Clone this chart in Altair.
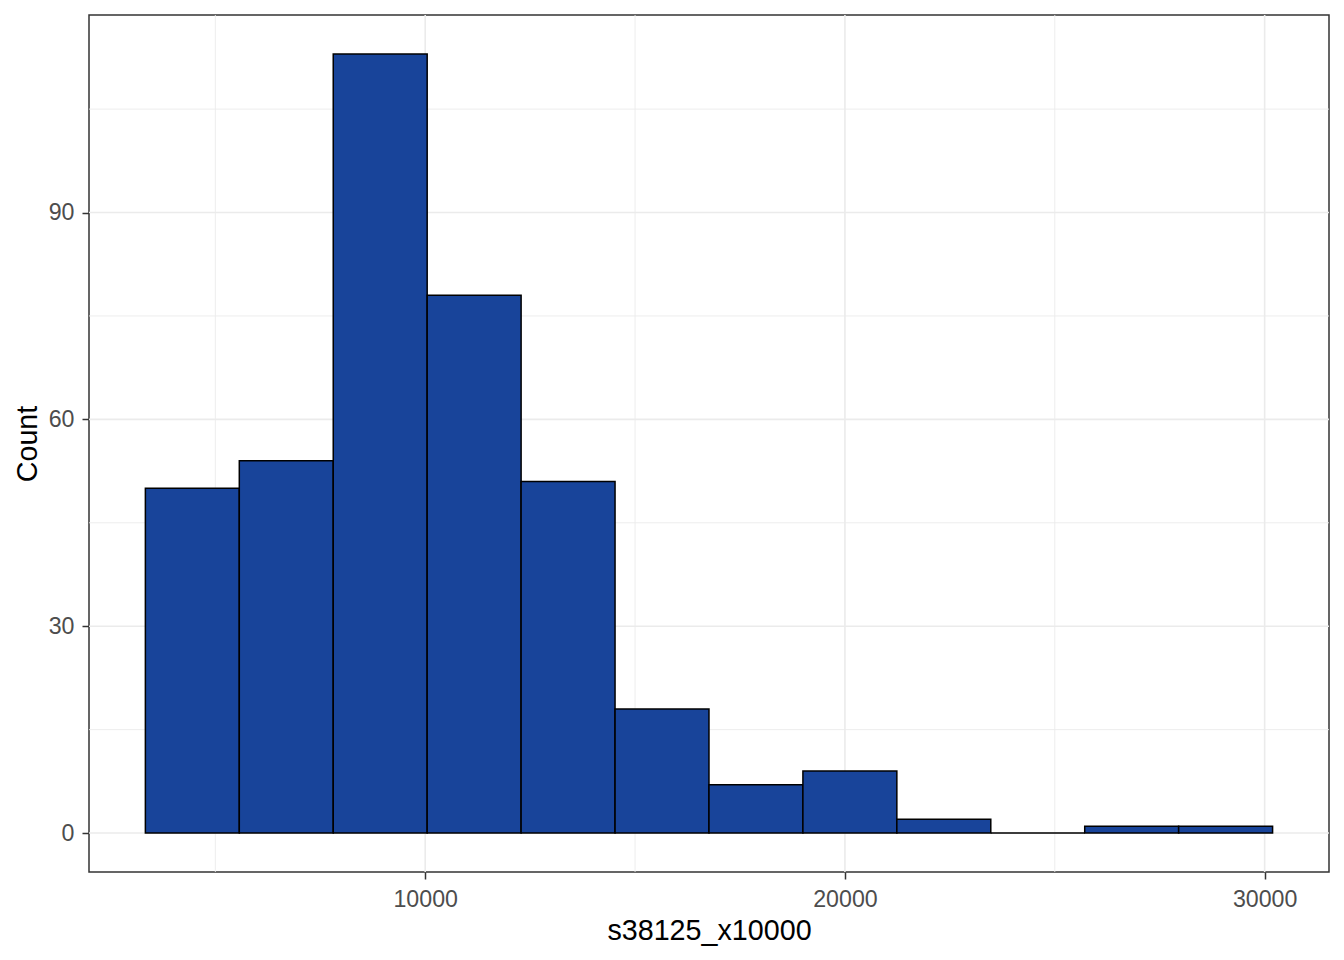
import altair as alt
import pandas as pd

# Histogram bins
bin_start = [3333, 5571, 7809, 10047, 12285, 14523, 16761, 18999, 21237, 23475, 25713, 27951]
bin_end = [5571, 7809, 10047, 12285, 14523, 16761, 18999, 21237, 23475, 25713, 27951, 30189]
counts = [50, 54, 113, 78, 51, 18, 7, 9, 2, 0, 1, 1]

x_ticks = [10000, 20000, 30000]
x_minor = [5000, 15000, 25000]
y_ticks = [0, 30, 60, 90]
y_minor = [15, 45, 75, 105]

bars_df = pd.DataFrame({"bin_start": bin_start, "bin_end": bin_end, "count": counts})
FONT = "Liberation Sans"

xscale = alt.Scale(domain=[1990, 31533], nice=False, zero=False)
yscale = alt.Scale(domain=[-5.65, 118.65], nice=False, zero=False)

xaxis = alt.Axis(values=x_ticks, title="s38125_x10000", grid=False, domain=False,
                 tickColor="#333333", tickSize=7, tickWidth=1.5,
                 labelColor="#4D4D4D", labelFont=FONT, labelFontSize=23.2,
                 labelBaseline="alphabetic", labelPadding=27,
                 labelFlush=False, labelOverlap=False, format="d",
                 titleFont=FONT, titleFontSize=28.7, titleFontWeight="normal",
                 titleColor="#000000", titleBaseline="alphabetic",
                 titleY=67, titleX=620)
yaxis = alt.Axis(values=y_ticks, title="Count", grid=False, domain=False,
                 tickColor="#333333", tickSize=7, tickWidth=1.5,
                 labelColor="#4D4D4D", labelFont=FONT, labelFontSize=23.2,
                 labelPadding=8, labelFlush=False, labelOverlap=False,
                 titleFont=FONT, titleFontSize=28.7, titleFontWeight="normal",
                 titleColor="#000000", titleBaseline="alphabetic",
                 titleX=-53, titleY=428.5, titleAngle=-90)

grid_x_major = alt.Chart(pd.DataFrame({"v": x_ticks})).mark_rule(
    color="#EBEBEB", strokeWidth=1.6).encode(x=alt.X("v:Q", scale=xscale, axis=xaxis))
grid_x_minor = alt.Chart(pd.DataFrame({"v": x_minor})).mark_rule(
    color="#EBEBEB", strokeWidth=0.9).encode(x=alt.X("v:Q", scale=xscale, axis=xaxis))
grid_y_major = alt.Chart(pd.DataFrame({"v": y_ticks})).mark_rule(
    color="#EBEBEB", strokeWidth=1.6).encode(y=alt.Y("v:Q", scale=yscale, axis=yaxis))
grid_y_minor = alt.Chart(pd.DataFrame({"v": y_minor})).mark_rule(
    color="#EBEBEB", strokeWidth=0.9).encode(y=alt.Y("v:Q", scale=yscale, axis=yaxis))

bars = alt.Chart(bars_df).mark_rect(
    fill="#18449A", stroke="#000000", strokeWidth=1.5
).encode(
    x=alt.X("bin_start:Q", scale=xscale, axis=xaxis),
    x2="bin_end:Q",
    y=alt.Y("count:Q", scale=yscale, axis=yaxis),
    y2=alt.datum(0),
)

chart = alt.layer(grid_x_minor, grid_y_minor, grid_x_major, grid_y_major, bars).properties(
    width=1240, height=857,
    autosize="none",
    padding={"left": 81, "top": 7, "right": 7, "bottom": 80},
    background="white",
).configure_view(stroke="#333333", strokeWidth=1.5)

chart.save("out.html", embed_options={"renderer": "svg", "actions": False})
